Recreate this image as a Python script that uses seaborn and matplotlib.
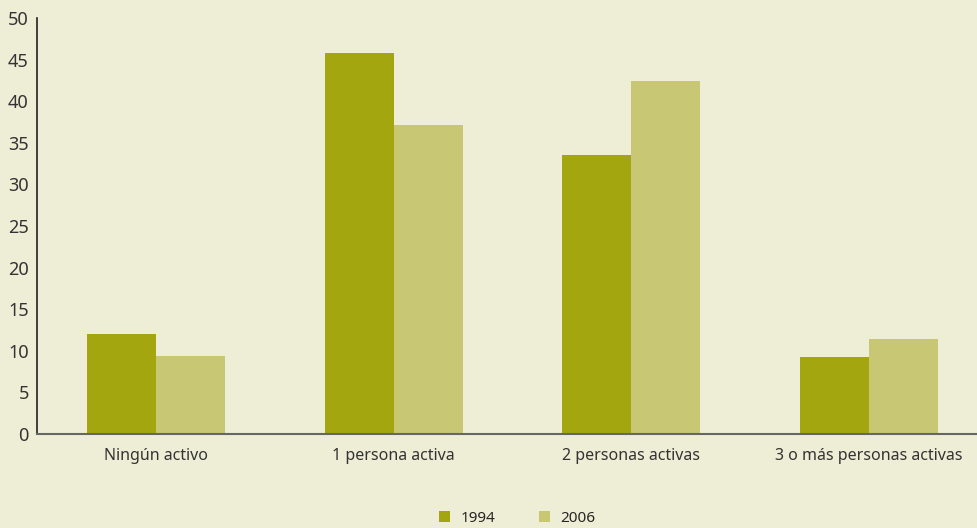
import pandas as pd
import matplotlib
matplotlib.use("Agg")
import matplotlib.pyplot as plt
import seaborn as sns

# --- data ---
categories = ["Ningún activo", "1 persona activa", "2 personas activas", "3 o más personas activas"]
years = ["1994", "2006"]
values_1994 = [12.0, 45.8, 33.5, 9.2]
values_2006 = [9.4, 37.1, 42.4, 11.4]

BG = "#EEEDD5"
COLORS = {"1994": "#A4A60F", "2006": "#C7C774"}

df = pd.DataFrame({
    "categoria": categories * 2,
    "anio": ["1994"] * 4 + ["2006"] * 4,
    "valor": values_1994 + values_2006,
})

sns.set_style("white")
plt.rcParams["font.family"] = ["Noto Sans", "DejaVu Sans"]

fig = plt.figure(figsize=(9.78, 5.28), dpi=100, facecolor=BG)
# the axis runs a little past the right edge of the figure, as in the reference
ax = fig.add_axes([0.038, 0.178, 0.972, 0.788])
ax.set_facecolor(BG)

sns.barplot(data=df, x="categoria", y="valor", hue="anio", order=categories,
            hue_order=years, palette=COLORS, width=0.58, saturation=1,
            edgecolor="none", linewidth=0, ax=ax)

ax.set_ylim(0, 50)
ax.set_xlim(-0.5, 3.5)
ax.set_yticks(range(0, 51, 5))
ax.tick_params(axis="y", length=0, labelsize=13, colors="#333333", pad=6)
ax.tick_params(axis="x", length=0, labelsize=11.5, colors="#333333", pad=10)
ax.set_xlabel("")
ax.set_ylabel("")

for side in ["top", "right"]:
    ax.spines[side].set_visible(False)
ax.spines["left"].set_color("#222222")
ax.spines["left"].set_linewidth(1.2)
ax.spines["bottom"].set_color("#666666")
ax.spines["bottom"].set_linewidth(1.5)

# legend at the bottom centre
handles, labels = ax.get_legend_handles_labels()
ax.get_legend().remove()
fig.legend(handles, labels, loc="center", bbox_to_anchor=(0.529, 0.018), ncol=2,
           frameon=False, fontsize=11, handlelength=0.75, handleheight=0.75,
           columnspacing=2.8, handletextpad=0.7)

fig.savefig("out.png", dpi=100, facecolor=BG)
